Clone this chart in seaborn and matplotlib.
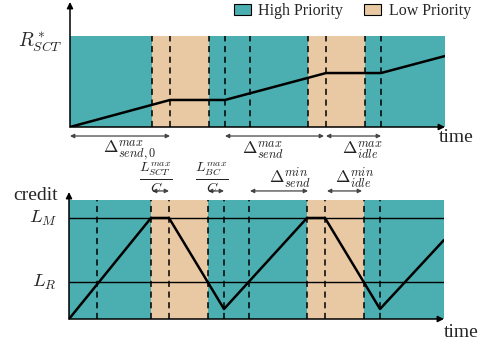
import numpy as np
import pandas as pd
import matplotlib
matplotlib.use("Agg")
import matplotlib.pyplot as plt
import seaborn as sns
from matplotlib.patches import Patch

sns.set_theme(style="white")
plt.rcParams['font.family'] = ['Liberation Serif', 'DejaVu Serif']
plt.rcParams['mathtext.fontset'] = 'cm'

# colours
teal = '#4baeb0'
tan = '#e9c9a3'

# time axis (arbitrary units)
t_end = 375
low_bands = [(82, 139), (238, 295)]
dash_top = [82, 100, 139, 155, 180, 238, 256, 295, 311]
dash_bot = [28, 82, 100, 139, 155, 180, 238, 256, 295, 311]

# top panel: sent data (normalised to R*_SCT)
sent_t = [0, 100, 155, 256, 311, 375]
sent_v = [0, 0.297, 0.297, 0.593, 0.593, 0.78]

# bottom panel: credit
credit_t = [0, 82, 100, 155, 238, 256, 311, 375]
credit_v = [0, 0.849, 0.849, 0.084, 0.849, 0.849, 0.084, 0.664]
L_M = 0.849
L_R = 0.311

W, H = 484, 343
fig = plt.figure(figsize=(W / 100, H / 100), dpi=100)

def px_axes(x0, y_top, x1, y_bot):
    return fig.add_axes([x0 / W, 1 - y_bot / H, (x1 - x0) / W, (y_bot - y_top) / H])

def draw_bands(ax):
    edges = [0] + [e for b in low_bands for e in b] + [t_end]
    for i in range(len(edges) - 1):
        c = teal if i % 2 == 0 else tan
        ax.fill_between([edges[i], edges[i + 1]], 0, 1, color=c, lw=0, zorder=0)

def draw_axes_arrows(ax, ytop):
    ap = dict(arrowstyle='-|>', color='black', lw=1.1, mutation_scale=9, shrinkA=0, shrinkB=0)
    ax.annotate('', xy=(t_end, 0), xytext=(0, 0), arrowprops=ap, annotation_clip=False)
    ax.annotate('', xy=(0, ytop), xytext=(0, 0), arrowprops=ap, annotation_clip=False)

def span_arrow(ax, x0, x1, y):
    ax.annotate('', xy=(x1, y), xytext=(x0, y), annotation_clip=False,
                arrowprops=dict(arrowstyle='<|-|>', color='#444444', lw=0.9,
                                mutation_scale=6, shrinkA=0, shrinkB=0))

# ---------- top panel ----------
ax1 = px_axes(70, 2, 445, 127)
top_lim = 125 / 91
ax1.set_xlim(0, t_end)
ax1.set_ylim(0, top_lim)
draw_bands(ax1)
ax1.vlines(dash_top, 0, 1, colors='black', linestyles=(0, (4, 3)), lw=1.1, zorder=2)
sns.lineplot(x=sent_t, y=sent_v, sort=False, estimator=None, color='black', lw=1.8, ax=ax1, zorder=3)
draw_axes_arrows(ax1, top_lim)
ax1.axis('off')

ax1.text(-7, 0.93, r'$R^*_{SCT}$', ha='right', va='center', fontsize=14)
ax1.text(t_end - 6, -0.11, 'time', ha='left', va='center', fontsize=14)

ya = -0.099
span_arrow(ax1, 0, 100, ya)
span_arrow(ax1, 155, 254, ya)
span_arrow(ax1, 256, 311, ya)
ax1.text(60, -0.26, r'$\Delta^{max}_{send,0}$', ha='center', va='center', fontsize=12.5, color='#222222')
ax1.text(193, -0.26, r'$\Delta^{max}_{send}$', ha='center', va='center', fontsize=12.5, color='#222222')
ax1.text(292, -0.26, r'$\Delta^{max}_{idle}$', ha='center', va='center', fontsize=12.5, color='#222222')

# ---------- bottom panel ----------
ax2 = px_axes(69, 192, 444, 319)
bot_lim = 127 / 119
ax2.set_xlim(0, t_end)
ax2.set_ylim(0, bot_lim)
draw_bands(ax2)
ax2.vlines(dash_bot, 0, 1, colors='black', linestyles=(0, (4, 3)), lw=1.1, zorder=2)
ax2.hlines([L_M, L_R], 0, t_end, colors='black', lw=1.0, zorder=2)
sns.lineplot(x=credit_t, y=credit_v, sort=False, estimator=None, color='black', lw=1.8, ax=ax2, zorder=3)
draw_axes_arrows(ax2, bot_lim)
ax2.axis('off')

ax2.text(-11, 1.04, 'credit', ha='right', va='center', fontsize=14)
ax2.text(-12, L_M, r'$L_M$', ha='right', va='center', fontsize=13.5)
ax2.text(-12, L_R, r'$L_R$', ha='right', va='center', fontsize=13.5)
ax2.text(t_end, -0.11, 'time', ha='left', va='center', fontsize=14)

yb = 1.076
span_arrow(ax2, 83, 100, yb)
span_arrow(ax2, 139, 155, yb)
span_arrow(ax2, 181, 239, yb)
span_arrow(ax2, 258, 293, yb)
ax2.text(87, 1.185, r'$\frac{L^{max}_{SCT}}{C}$', ha='center', va='center', fontsize=14.5, color='#222222')
ax2.text(143, 1.185, r'$\frac{L^{max}_{BC}}{C}$', ha='center', va='center', fontsize=14.5, color='#222222')
ax2.text(221, 1.19, r'$\Delta^{min}_{send}$', ha='center', va='center', fontsize=12.5, color='#222222')
ax2.text(286, 1.19, r'$\Delta^{min}_{idle}$', ha='center', va='center', fontsize=12.5, color='#222222')

# legend
handles = [Patch(facecolor=teal, edgecolor='black', lw=0.8, label='High Priority'),
           Patch(facecolor=tan, edgecolor='black', lw=0.8, label='Low Priority')]
fig.legend(handles=handles, loc='upper right', bbox_to_anchor=(474 / W, 1.0), ncol=2,
           frameon=False, fontsize=11.5, handlelength=1.1, handleheight=0.65,
           handletextpad=0.45, columnspacing=1.3, borderpad=0.2, borderaxespad=0)

fig.savefig('out.png', dpi=100)
